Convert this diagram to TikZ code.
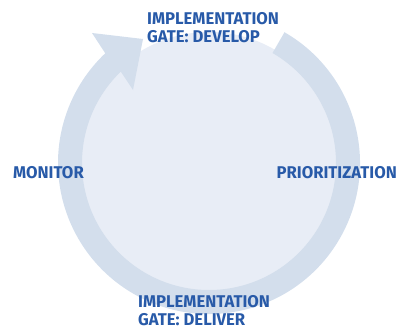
\documentclass[tikz,border=0pt]{standalone}
\usepackage{fontspec}
\newfontfamily\labelfont{Fira Sans}[FakeStretch=0.98]
\definecolor{ringblue}{RGB}{211,222,236}
\definecolor{discblue}{RGB}{232,237,246}
\definecolor{textblue}{RGB}{40,90,168}
\tikzset{
  steplabel/.style={inner sep=0pt, text=textblue, align=left,
    font=\labelfont\bfseries\fontsize{17}{18}\selectfont}
}
\begin{document}
\begin{tikzpicture}[x=1pt,y=1pt]
 \useasboundingbox (0,0) rectangle (398,330);
 \coordinate (c) at (209,167);
 % light disc and the arrow ring
 \fill[discblue] (c) circle[radius=131];
 \fill[ringblue] ([shift={(c)}]60:151) arc[start angle=60,end angle=-226.6,radius=151]
   -- (92,297) -- (143,291) -- (133,240)
   -- ([shift={(c)}]-226:127) arc[start angle=-226,end angle=60,radius=127] -- cycle;
 % labels
 \node[steplabel,anchor=north west] (develop) at (147,318) {IMPLEMENTATION\\GATE: DEVELOP};
 \node[steplabel,anchor=west] (monitor) at (13,157) {MONITOR};
 \node[steplabel,anchor=east] (prior) at (397,157) {PRIORITIZATION};
 \node[steplabel,anchor=north west] (deliver) at (138,35) {IMPLEMENTATION\\GATE: DELIVER};
\end{tikzpicture}
\end{document}
